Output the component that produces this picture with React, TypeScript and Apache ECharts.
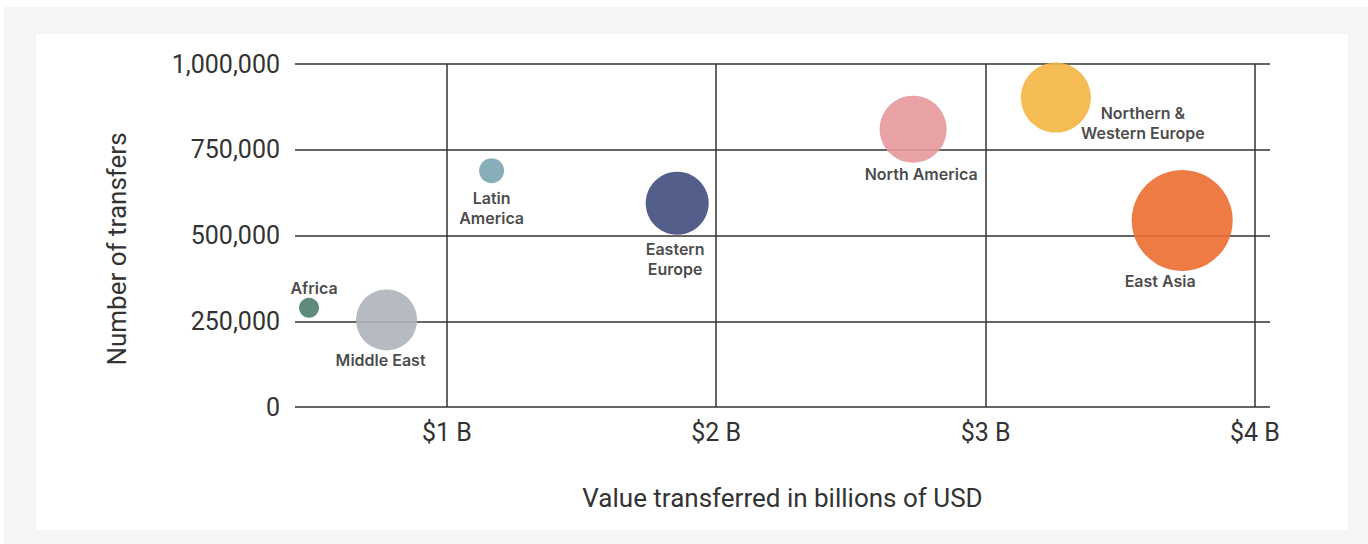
import React, { useEffect, useRef } from "react";
import * as echarts from "echarts";

const regions = ["Africa", "Middle East", "Latin America", "Eastern Europe", "North America", "Northern & Western Europe", "East Asia"];
const labelTexts = ["Africa", "Middle East", "Latin\nAmerica", "Eastern\nEurope", "North America", "Northern &\nWestern Europe", "East Asia"];
const valueBillions = [0.488, 0.776, 1.166, 1.855, 2.731, 3.261, 3.73];
const transfers = [289000, 254000, 689000, 594000, 810000, 902000, 544000];
const bubbleSize = [20, 61, 25, 63, 67, 70, 101];
const xTicks = [1, 2, 3, 4];
const xTitle = "Value transferred in billions of USD";
const yTitle = "Number of transfers";

const colors = ["#4d7e6c", "#aeb2ba", "#7ba6b1", "#404d7e", "#e5989b", "#f4b542", "#ed6d30"];
const labelOffsets = [[5, -20], [-6, 40], [0, 37], [-2, 56], [8, 45], [87, 25], [-22, 61]];

export default function App() {
  const ref = useRef<HTMLDivElement>(null);
  useEffect(() => {
    document.body.style.margin = "0";
    const chart = echarts.init(ref.current!, null, { renderer: "svg" });
    const data = regions.map((name, i) => ({
      name,
      value: [valueBillions[i], transfers[i], bubbleSize[i]],
      symbolSize: bubbleSize[i],
      itemStyle: { color: colors[i], opacity: 0.9 },
      label: {
        show: true,
        formatter: labelTexts[i],
        position: "inside",
        offset: labelOffsets[i],
        align: "center",
        verticalAlign: "middle",
        color: "#333",
        fontFamily: "Inter",
        fontWeight: 600,
        fontSize: 16,
        lineHeight: 20,
      },
    }));
    chart.setOption({
      animation: false,
      grid: { left: 295, right: 98, top: 64, bottom: 137, containLabel: false },
      graphic: [
        {
          type: "text",
          x: 117,
          y: 249,
          rotation: Math.PI / 2,
          silent: true,
          style: {
            text: yTitle,
            fontFamily: "Roboto",
            fontSize: 26,
            fill: "#333",
            textAlign: "center",
            textVerticalAlign: "middle",
          },
        },
      ],
      xAxis: {
        type: "value",
        min: 0.436,
        max: 4.056,
        name: xTitle,
        nameLocation: "middle",
        nameGap: 78,
        nameTextStyle: { fontFamily: "Roboto", fontSize: 26, color: "#333" },
        axisLine: { show: false },
        axisTick: { show: false },
        splitLine: { show: false },
        axisLabel: {
          customValues: xTicks,
          formatter: (v: number) => `$${v} B`,
          fontFamily: "Roboto",
          fontSize: 25,
          color: "#333",
          margin: 13,
        },
      },
      yAxis: {
        type: "value",
        min: 0,
        max: 1000000,
        interval: 250000,
        axisLine: { show: false },
        axisTick: { show: false },
        splitLine: { show: true, lineStyle: { color: "#333", width: 1.5 } },
        axisLabel: {
          formatter: (v: number) => v.toLocaleString("en-US"),
          fontFamily: "Roboto",
          fontSize: 25,
          color: "#333",
          margin: 15,
        },
      },
      series: [
        {
          type: "scatter",
          data,
          markLine: {
            silent: true,
            symbol: ["none", "none"],
            label: { show: false },
            lineStyle: { color: "#333", width: 1.5, type: "solid" },
            data: xTicks.map((t) => ({ xAxis: t })),
          },
        },
      ],
    });
    return () => chart.dispose();
  }, []);
  return (
    <div style={{ position: "relative", width: 1368, height: 544, background: "#fff" }}>
      <div style={{ position: "absolute", left: 4, top: 7, right: 0, bottom: 0, background: "#f5f5f5" }} />
      <div style={{ position: "absolute", left: 36, top: 34, width: 1312, height: 496, background: "#fff" }} />
      <div ref={ref} style={{ position: "absolute", left: 0, top: 0, width: 1368, height: 544 }} />
    </div>
  );
}
